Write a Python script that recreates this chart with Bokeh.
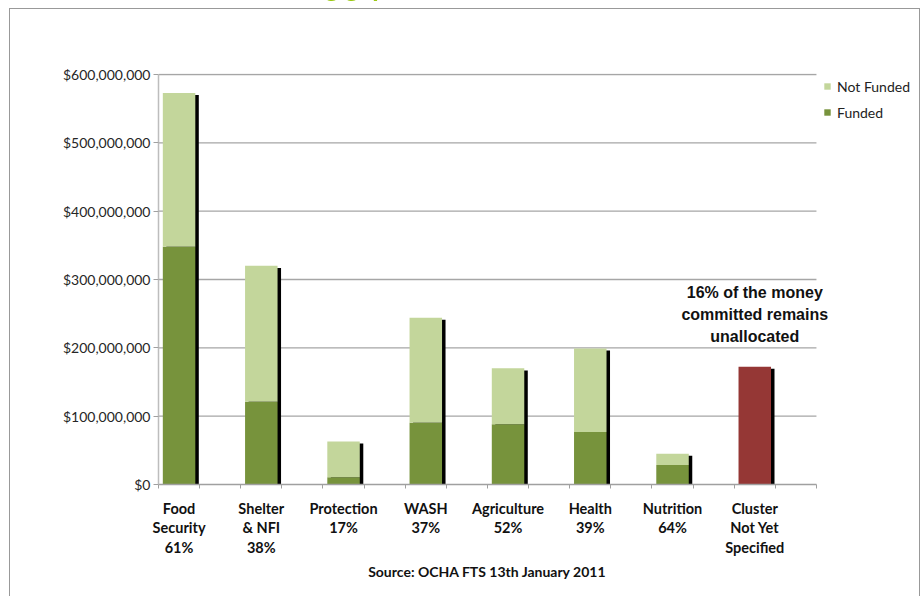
from bokeh.plotting import figure
from bokeh.layouts import column
from bokeh.models import (FixedTicker, NumeralTickFormatter, Range1d, Label,
                          Legend, LegendItem, ColumnDataSource, LinearAxis, Div)
from bokeh.embed import file_html
from bokeh.resources import INLINE

# ---- data ----
label_lines = [["Food", "Security", "61%"], ["Shelter", "& NFI", "38%"],
               ["Protection", "17%"], ["WASH", "37%"], ["Agriculture", "52%"],
               ["Health", "39%"], ["Nutrition", "64%"],
               ["Cluster", "Not Yet", "Specified"]]
funded = [348e6, 121e6, 10.5e6, 90.5e6, 88e6, 77e6, 28.5e6, 0]
not_funded = [225e6, 199e6, 52.5e6, 153.5e6, 82e6, 122e6, 16.5e6, 0]
unallocated = [0, 0, 0, 0, 0, 0, 0, 172.5e6]
y_ticks = [0, 100e6, 200e6, 300e6, 400e6, 500e6, 600e6]
note_lines = ["16% of the money", "committed remains", "unallocated"]
source_text = "Source: OCHA FTS 13th January 2011"
title_text = "Funding gap"

n = len(label_lines)
xc = [2 * i + 0.5 for i in range(n)]
total = [f + nf + u for f, nf, u in zip(funded, not_funded, unallocated)]

LIGHT = "#C3D69B"
DARK = "#77933C"
RED = "#953735"
FONT = "Lato"
X_END = 18.36

p = figure(width=923, height=596, output_backend="svg", toolbar_location=None,
           x_range=Range1d(0, X_END), y_range=Range1d(0, 601.5e6),
           min_border_left=158, min_border_right=10, min_border_top=73,
           min_border_bottom=112)
p.outline_line_color = None
p.background_fill_color = "white"
p.border_fill_color = "white"

src = ColumnDataSource(dict(x=xc, funded=funded, not_funded=not_funded,
                            unallocated=unallocated, total=total,
                            xs=[v + 0.085 for v in xc],
                            ts=[t - 3e6 for t in total],
                            bs=[-3e6] * n))

# gridlines (drawn from the tick values, across the category span only)
gl = [t for t in y_ticks if t > 0]
p.segment(x0=[0] * len(gl), x1=[2 * n] * len(gl), y0=gl, y1=gl,
          line_color="#a6a6a6", line_width=1.3)

# shadow
p.vbar(x="xs", top="ts", bottom="bs", width=0.79, source=src,
       fill_color="black", line_color=None)
rs = p.vbar_stack(["funded", "not_funded"], x="x", width=0.79, source=src,
                  fill_color=[DARK, LIGHT], line_color=None)
p.vbar(x="x", top="unallocated", width=0.79, source=src, fill_color=RED,
       line_color=None)

legend = Legend(items=[LegendItem(label="Not Funded", renderers=[rs[1]]),
                       LegendItem(label="Funded", renderers=[rs[0]])],
                location=(665, 362), padding=0, margin=0, spacing=6,
                glyph_width=8, glyph_height=8, label_height=20,
                label_standoff=6, border_line_color=None,
                background_fill_alpha=0,
                label_text_font=FONT, label_text_font_size="14px",
                label_text_color="#222222")
p.add_layout(legend)

# axes
p.xgrid.visible = False
p.ygrid.visible = False

p.yaxis.bounds = (0, 600e6)
p.yaxis.ticker = FixedTicker(ticks=y_ticks)
p.yaxis.formatter = NumeralTickFormatter(format="$0,0")
p.yaxis.major_label_text_font = FONT
p.yaxis.major_label_text_font_size = "14px"
p.yaxis.major_label_text_color = "#262626"
p.yaxis.major_label_standoff = 3
p.yaxis.axis_line_color = "#bdbdbd"
p.yaxis.axis_line_width = 1.5
p.yaxis.major_tick_line_color = "#a0a0a0"
p.yaxis.major_tick_out = 5
p.yaxis.major_tick_in = 0
p.yaxis.minor_tick_line_color = None

xa = p.xaxis[0]
xa.bounds = (0, 2 * n)
xa.ticker = FixedTicker(ticks=xc, minor_ticks=list(range(2 * n + 1)))
xa.major_label_overrides = {xc[i]: "\n".join(l) for i, l in enumerate(label_lines)}
xa.major_label_text_font = FONT
xa.major_label_text_font_style = "bold"
xa.major_label_text_font_size = "14.5px"
xa.major_label_text_color = "#111111"
xa.major_label_text_line_height = 1.15
xa.major_label_standoff = 11
xa.axis_line_color = "#a0a0a0"
xa.axis_line_width = 1.5
xa.major_tick_line_color = None
xa.major_tick_out = 0
xa.major_tick_in = 0
xa.minor_tick_line_color = "#a0a0a0"
xa.minor_tick_out = 4
xa.minor_tick_in = 0

# source line as a second, bare axis below
sa = LinearAxis(bounds=(0, 2 * n), ticker=FixedTicker(ticks=[n], minor_ticks=[]),
                major_label_overrides={n: source_text},
                axis_line_color=None, major_tick_line_color=None,
                minor_tick_line_color=None, major_tick_out=0, major_tick_in=0,
                major_label_standoff=4, major_label_text_font=FONT,
                major_label_text_font_style="bold",
                major_label_text_font_size="14px",
                major_label_text_color="#111111")
p.add_layout(sa, "below")

# note
for k, t in enumerate(note_lines):
    p.add_layout(Label(x=xc[-1], y=248.8e6, y_offset=22.3 * (1 - k), text=t,
                       text_align="center", text_baseline="middle",
                       text_font="Liberation Sans", text_font_style="bold",
                       text_font_size="16px", text_color="#111111"))

# outer frame of the slide chart, and the slide title cut off at the top
frame = Div(width=923, height=0, text=(
    '<div style="position:fixed;left:9px;top:8px;width:911px;height:700px;'
    'border:1px solid #999;box-sizing:border-box;pointer-events:none;"></div>'
    '<div style="position:fixed;left:246px;top:-25.6px;line-height:26px;'
    'font:bold 26px Lato;line-height:26px;color:#9BC814;white-space:nowrap;'
    'pointer-events:none;">' + title_text + '</div>'))

layout = column(p, frame, spacing=0)
open("out.html", "w").write(file_html(layout, INLINE))
